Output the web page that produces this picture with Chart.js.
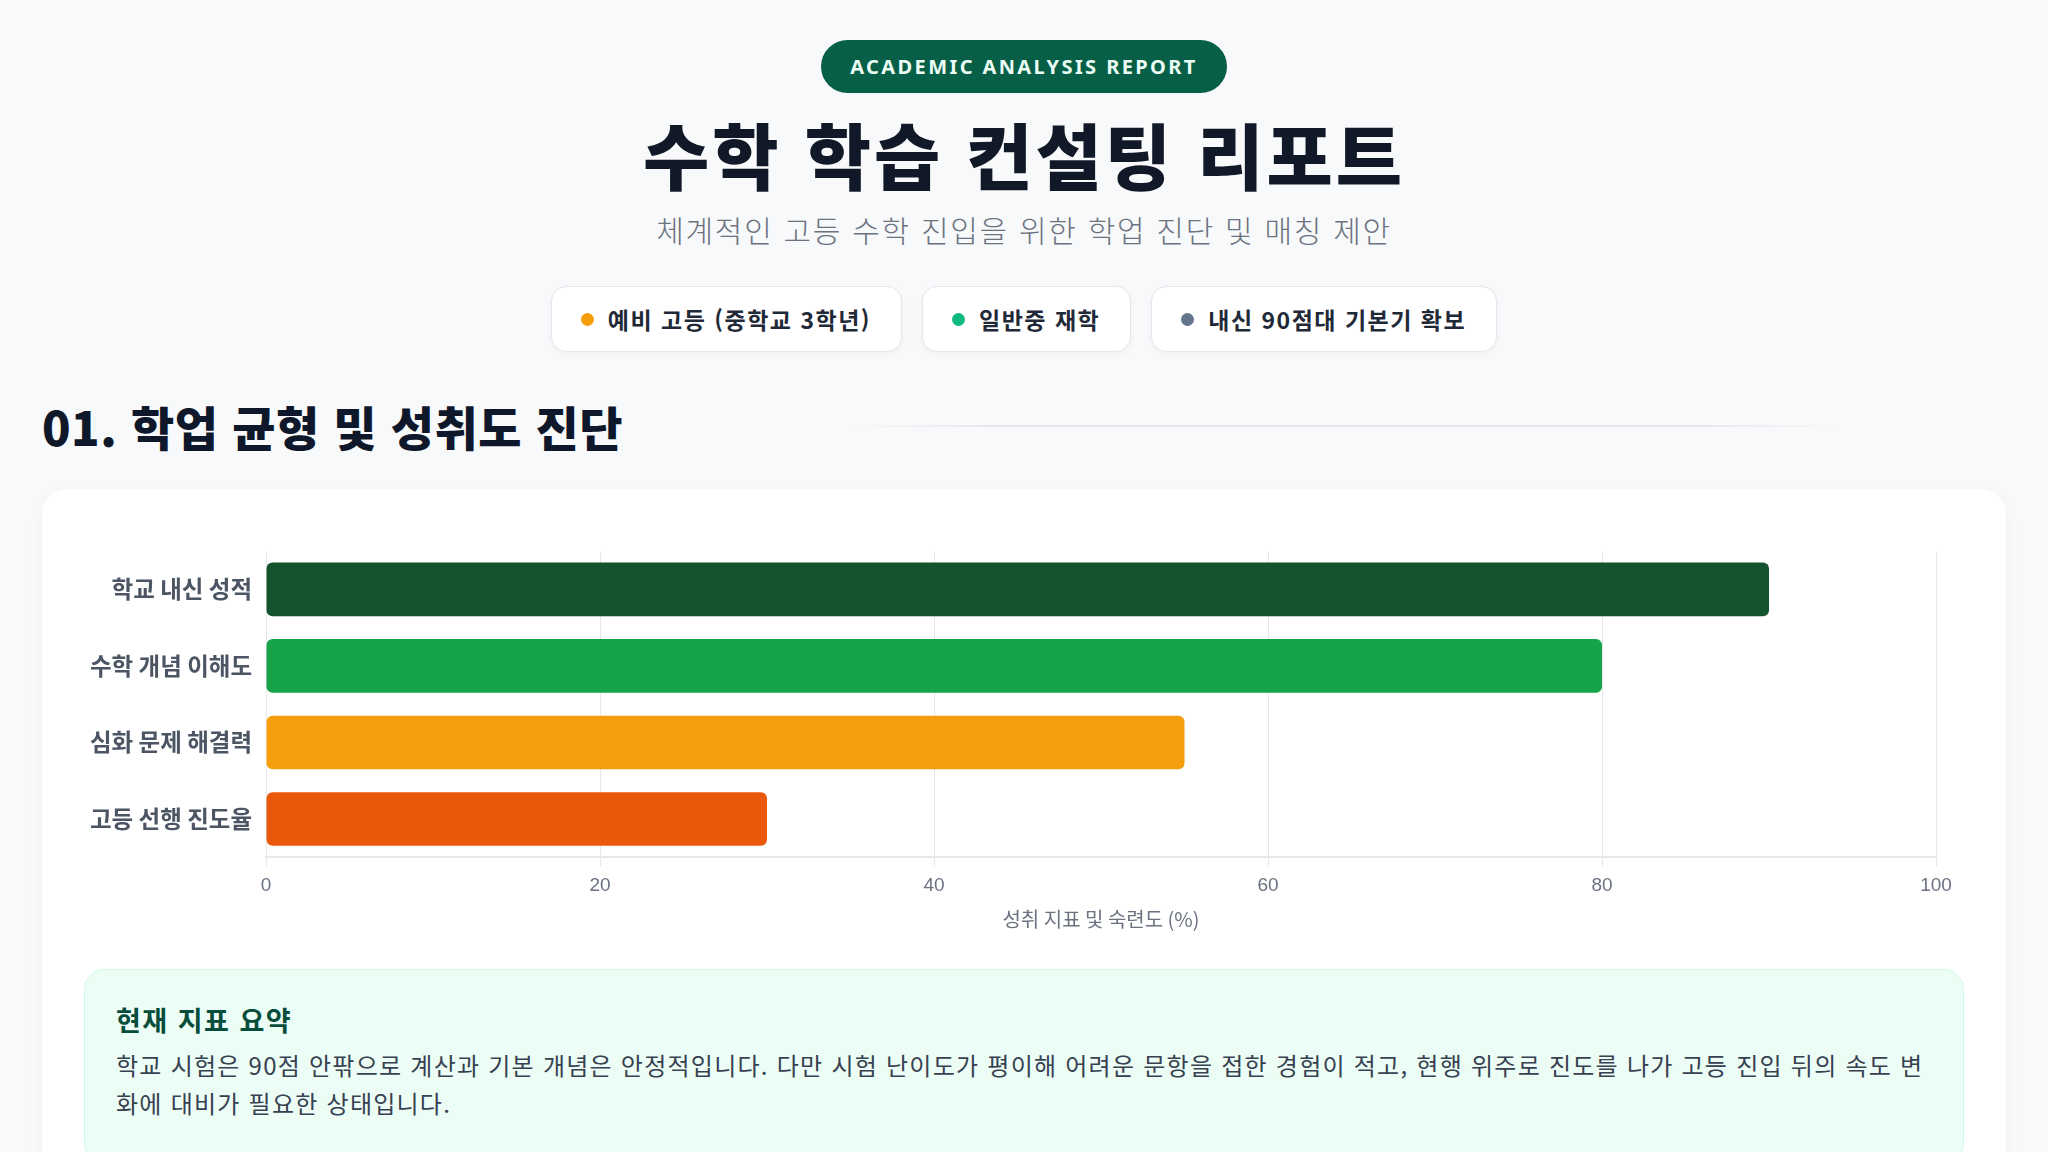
<!DOCTYPE html>
<html lang="ko">
<head>
<meta charset="utf-8">
<title>수학 학습 컨설팅 리포트</title>
<script src="https://cdn.jsdelivr.net/npm/chart.js@4.4.1/dist/chart.umd.min.js"></script>
<style>
    * { box-sizing: border-box; }
    body {
        margin: 0;
        background: #f8f9fa;
        font-family: 'Noto Sans CJK KR', 'Noto Sans', sans-serif;
        color: #111827;
        width: 2048px;
        height: 1152px;
        overflow: hidden;
    }
    .wrap { padding: 40px 42px 0 42px; position: relative; }
    header { text-align: center; }
    .badge {
        display: inline-block;
        height: 53px;
        line-height: 53px;
        padding: 0 29px;
        border-radius: 27px;
        background: #065f46;
        color: #ecfdf5;
        font-family: 'Noto Sans', sans-serif;
        font-weight: 700;
        font-size: 20px;
        letter-spacing: 2.4px;
    }
    h1 {
        margin: 18px 0 0 0;
        font-size: 72px;
        line-height: 84px;
        font-weight: 900;
        color: #111827;
        letter-spacing: 3px;
    }
    .subtitle {
        margin-top: 15px;
        font-size: 30px;
        line-height: 39px;
        font-weight: 300;
        color: #6b7280;
        letter-spacing: 1.7px;
    }
    .pills {
        margin-top: 37px;
        display: flex;
        justify-content: center;
        gap: 20px;
    }
    .pill {
        display: flex;
        align-items: center;
        height: 66px;
        padding: 0 30px 0 29px;
        background: #fff;
        border: 1px solid #e5e7eb;
        border-radius: 15px;
        box-shadow: 0 2px 6px rgba(0,0,0,0.04);
        font-size: 23px;
        font-weight: 700;
        color: #1f2937;
        letter-spacing: 1.5px;
    }
    .dot { width: 13px; height: 13px; border-radius: 50%; margin-right: 14px; }
    .section {
        position: relative;
        margin-top: 46px;
        height: 56px;
    }
    .section h2 {
        margin: 0;
        font-size: 47px;
        line-height: 56px;
        font-weight: 800;
        color: #0f172a;
        letter-spacing: 0.5px;
    }
    .section .line {
        position: absolute;
        left: 807px;
        width: 992px;
        top: 27px;
        height: 2px;
        background: linear-gradient(90deg, rgba(229,231,235,0), #e5e7eb 15%, #e5e7eb 85%, rgba(229,231,235,0));
    }
    .card {
        margin-top: 35px;
        background: #fff;
        border-radius: 26px;
        box-shadow: 0 4px 18px rgba(0,0,0,0.035);
        padding: 42px 42px 42px 42px;
        height: 700px;
    }
    .chart-box { position: relative; height: 404px; }
    .summary {
        margin-top: 34px;
        background: #ecfdf5;
        border: 1px solid #d1fae5;
        border-radius: 20px;
        padding: 32px 31px 40px 31px;
    }
    .summary h3 {
        margin: 0;
        font-size: 27px;
        line-height: 36px;
        font-weight: 700;
        color: #064e3b;
        letter-spacing: 1.5px;
    }
    .summary p {
        margin: 8px 0 0 0;
        font-size: 24px;
        line-height: 38px;
        color: #374151;
        letter-spacing: 1.25px;
    }
</style>
</head>
<body>
<div class="wrap">
    <header>
        <div class="badge">ACADEMIC ANALYSIS REPORT</div>
        <h1>수학 학습 컨설팅 리포트</h1>
        <div class="subtitle">체계적인 고등 수학 진입을 위한 학업 진단 및 매칭 제안</div>
        <div class="pills">
            <div class="pill"><span class="dot" style="background:#f59e0b"></span>예비 고등 (중학교 3학년)</div>
            <div class="pill"><span class="dot" style="background:#10b981"></span>일반중 재학</div>
            <div class="pill"><span class="dot" style="background:#64748b"></span>내신 90점대 기본기 확보</div>
        </div>
    </header>

    <div class="section">
        <h2>01. 학업 균형 및 성취도 진단</h2>
        <div class="line"></div>
    </div>

    <div class="card">
        <div class="chart-box"><canvas id="balanceChart"></canvas></div>
        <div class="summary">
            <h3>현재 지표 요약</h3>
            <p>학교 시험은 90점 안팎으로 계산과 기본 개념은 안정적입니다. 다만 시험 난이도가 평이해 어려운 문항을 접한 경험이 적고, 현행 위주로 진도를 나가 고등 진입 뒤의 속도 변화에 대비가 필요한 상태입니다.</p>
        </div>
    </div>
</div>

<script>
// 진단 항목 / 점수
const categories = ['학교 내신 성적', '수학 개념 이해도', '심화 문제 해결력', '고등 선행 진도율'];
const scores = [90, 80, 55, 30];
const xTickValues = [0, 20, 40, 60, 80, 100];
const axisTitle = '성취 지표 및 숙련도 (%)';

const barColors = ['#14532d', '#16a34a', '#f59e0b', '#ea580c'];

let balanceChart = null;

function loadBalanceChart() {
    const ctx = document.getElementById('balanceChart');
    if (!ctx) return;

    if (balanceChart) balanceChart.destroy();

    balanceChart = new Chart(ctx, {
        type: 'bar',
        data: {
            labels: categories,
            datasets: [{
                label: '성취도',
                data: scores,
                backgroundColor: barColors,
                borderRadius: 6,
                borderSkipped: false,
                barPercentage: 0.7,
                categoryPercentage: 1.0
            }]
        },
        options: {
            indexAxis: 'y',
            responsive: true,
            maintainAspectRatio: false,
            animation: false,
            layout: { padding: { top: 2, right: 28, left: 0, bottom: 0 } },
            plugins: {
                legend: { display: false },
                tooltip: { enabled: false }
            },
            scales: {
                x: {
                    min: xTickValues[0],
                    max: xTickValues[xTickValues.length - 1],
                    afterBuildTicks: (axis) => {
                        axis.ticks = xTickValues.map(v => ({ value: v }));
                    },
                    grid: { color: '#e5e7eb', tickLength: 9 },
                    border: { color: '#e5e7eb', width: 2 },
                    ticks: { color: '#6b7280', padding: 8, font: { size: 19 } },
                    title: {
                        display: true,
                        text: axisTitle,
                        color: '#6b7280',
                        font: { size: 20, family: "'Noto Sans CJK KR', sans-serif" },
                        padding: { top: 2, bottom: 4 }
                    }
                },
                y: {
                    grid: { display: false },
                    border: { display: false },
                    ticks: {
                        color: '#4b5563',
                        padding: 6,
                        font: { size: 23.5, weight: 'bold', family: "'Noto Sans CJK KR', sans-serif" }
                    }
                }
            }
        }
    });
}

loadBalanceChart();
</script>
</body>
</html>
